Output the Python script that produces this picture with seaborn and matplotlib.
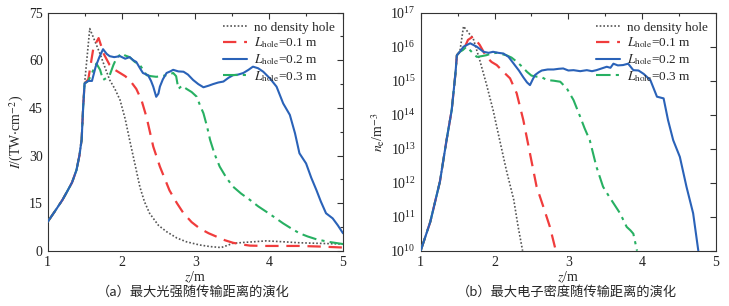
import matplotlib
matplotlib.use('Agg')
import matplotlib.pyplot as plt
import numpy as np
import pandas as pd
import seaborn as sns
from matplotlib.ticker import MultipleLocator, LogLocator, NullLocator

# ---- (a) peak intensity I (TW/cm^2) vs z (m)
z_rise = [1.0, 1.1, 1.2, 1.26, 1.33, 1.39, 1.43, 1.46, 1.48, 1.5]
i_rise = [9.1, 12.5, 16.0, 18.5, 21.5, 25.4, 30.0, 35.0, 45.0, 52.7]

z_nohole_a = [1.5, 1.57, 1.64, 1.71, 1.78, 1.84, 1.91, 1.98, 2.05, 2.11, 2.18, 2.25, 2.31, 2.38,
              2.5, 2.61, 2.75, 2.88, 3.06, 3.2, 3.35, 3.45, 3.5, 3.65, 3.78, 3.96, 4.2, 4.41, 4.7, 5.0]
i_nohole_a = [52.7, 70.0, 66.0, 62.0, 57.5, 53.8, 51.0, 47.5, 41.5, 34.9, 27.5, 20.0, 15.5, 11.8,
              8.0, 6.0, 4.0, 2.8, 1.8, 1.3, 1.0, 1.8, 2.3, 2.6, 2.8, 3.1, 2.8, 2.5, 2.3, 2.1]

z_h01_a = [1.5, 1.55, 1.62, 1.69, 1.76, 1.84, 1.91, 1.98, 2.05, 2.11, 2.2, 2.27, 2.34, 2.43, 2.52,
           2.65, 2.75, 2.84, 2.95, 3.06, 3.18, 3.29, 3.4, 3.51, 3.62, 3.74, 3.96, 4.2, 4.41, 4.7, 5.0]
i_h01_a = [52.7, 54.0, 64.0, 67.0, 62.0, 58.5, 57.0, 56.0, 55.0, 53.8, 51.0, 47.5, 42.0, 32.8, 26.5,
           19.0, 15.0, 11.8, 9.0, 7.0, 5.5, 4.4, 3.3, 2.5, 2.0, 1.6, 1.5, 1.5, 1.5, 1.3, 1.0]

z_h02_a = [1.5, 1.55, 1.6, 1.65, 1.7, 1.75, 1.8, 1.84, 1.9, 1.98, 2.05, 2.11, 2.16, 2.2, 2.25, 2.29,
           2.36, 2.4, 2.43, 2.47, 2.5, 2.52, 2.56, 2.61, 2.66, 2.7, 2.77, 2.84, 2.9, 2.97, 3.04,
           3.11, 3.18, 3.24, 3.31, 3.38, 3.45, 3.51, 3.58, 3.65, 3.72, 3.78, 3.85, 3.92, 4.01,
           4.1, 4.19, 4.28, 4.35, 4.41, 4.5, 4.57, 4.64, 4.7, 4.77, 4.86, 4.93, 5.0]
i_h02_a = [52.7, 53.5, 53.5, 58.0, 61.0, 63.5, 62.0, 61.3, 61.0, 61.3, 60.5, 61.0, 60.0, 59.5, 57.5, 56.0,
           55.3, 53.5, 51.7, 48.5, 49.5, 51.7, 54.0, 56.0, 56.5, 57.0, 56.5, 56.4, 55.5, 53.8, 52.5,
           51.5, 52.0, 52.5, 53.0, 53.3, 54.5, 55.3, 55.5, 56.0, 57.0, 58.0, 57.5, 56.4, 54.3,
           51.7, 46.4, 42.8, 37.0, 30.7, 27.5, 23.0, 19.1, 15.5, 11.8, 10.2, 8.0, 5.5]

z_h03_a = [1.5, 1.55, 1.6, 1.66, 1.71, 1.75, 1.8, 1.84, 1.89, 1.93, 2.0, 2.05, 2.11, 2.18, 2.25,
           2.34, 2.4, 2.47, 2.54, 2.61, 2.7, 2.74, 2.77, 2.82, 2.88, 2.95, 3.02, 3.06, 3.11, 3.16,
           3.2, 3.26, 3.33, 3.42, 3.51, 3.62, 3.74, 3.85, 3.96, 4.08, 4.19, 4.3, 4.41, 4.52, 4.64,
           4.8, 5.0]
i_h03_a = [52.7, 53.5, 56.0, 59.0, 57.0, 53.8, 54.5, 55.3, 58.5, 60.6, 62.2, 61.5, 61.0, 59.5, 58.5,
           55.3, 55.0, 54.8, 55.0, 55.3, 56.0, 55.0, 51.0, 52.0, 51.0, 50.0, 48.5, 46.0, 43.3, 39.0,
           34.9, 30.5, 26.5, 23.0, 20.2, 18.0, 16.0, 14.0, 12.3, 10.4, 8.6, 7.0, 5.5, 4.5, 3.6,
           2.8, 2.1]

# ---- (b) peak electron density log10(n_e / m^-3) vs z (m)
z_rise_b = [1.0, 1.13, 1.26, 1.35, 1.42, 1.47, 1.49, 1.53]
n_rise_b = [10.0, 10.85, 12.03, 13.25, 14.14, 15.2, 15.75, 15.85]

z_nohole_b = [1.53, 1.58, 1.65, 1.71, 1.8, 1.89, 1.98, 2.07, 2.16, 2.26, 2.32, 2.38]
n_nohole_b = [15.85, 16.6, 16.4, 16.25, 15.6, 14.9, 14.14, 13.25, 12.37, 11.5, 10.7, 10.0]

z_h01_b = [1.53, 1.6, 1.64, 1.71, 1.8, 1.89, 1.96, 2.03, 2.12, 2.21, 2.3, 2.39, 2.48, 2.57, 2.66,
           2.75, 2.83]
n_h01_b = [15.85, 16.0, 16.2, 16.3, 16.05, 15.7, 15.55, 15.46, 15.26, 15.07, 14.63, 13.84, 12.86, 11.88, 11.3,
           10.7, 10.0]

z_h02_b = [1.53, 1.58, 1.67, 1.76, 1.85, 1.92, 1.98, 2.05, 2.12, 2.19, 2.26, 2.33, 2.39, 2.44, 2.48,
           2.52, 2.55, 2.6, 2.64, 2.72, 2.8, 2.87, 2.93, 3.0, 3.07, 3.16, 3.25, 3.32, 3.38, 3.45,
           3.52, 3.57, 3.61, 3.67, 3.74, 3.81, 3.88, 3.95, 4.02, 4.11, 4.2, 4.29, 4.35, 4.42, 4.51,
           4.6, 4.69, 4.76]
n_h02_b = [15.8, 16.0, 16.1, 16.0, 15.85, 15.82, 15.85, 15.82, 15.8, 15.7, 15.5, 15.3, 15.1, 14.95, 14.87,
           15.05, 15.17, 15.25, 15.3, 15.33, 15.33, 15.35, 15.36, 15.3, 15.31, 15.28, 15.31, 15.28, 15.31, 15.36,
           15.41, 15.38, 15.5, 15.45, 15.46, 15.5, 15.31, 15.3, 15.2, 15.02, 14.53, 14.48, 13.84, 13.25, 12.76,
           11.88, 11.1, 10.0]

z_h03_b = [1.53, 1.57, 1.62, 1.69, 1.76, 1.82, 1.89, 1.96, 2.03, 2.1, 2.16, 2.23, 2.3, 2.37, 2.44,
           2.5, 2.57, 2.64, 2.71, 2.8, 2.89, 2.98, 3.07, 3.16, 3.22, 3.29, 3.38, 3.47, 3.55, 3.61,
           3.7, 3.79, 3.84, 3.88, 3.93]
n_h03_b = [15.85, 15.9, 16.0, 15.85, 15.7, 15.72, 15.75, 15.8, 15.82, 15.78, 15.75, 15.68, 15.56, 15.42, 15.26,
           15.15, 15.12, 15.1, 15.02, 15.0, 14.97, 14.77, 14.43, 13.94, 13.6, 13.25, 12.47, 11.88, 11.6, 11.4,
           11.1, 10.7, 10.6, 10.5, 10.0]

labels = ['no density hole', r'$L_{\rm hole}$=0.1 m', r'$L_{\rm hole}$=0.2 m', r'$L_{\rm hole}$=0.3 m']
colors = ['#555555', '#f03c3c', '#2a62b8', '#27b062']
styles = [(0, (1, 1.2)), (0, (6, 3.5)), '-', (0, (7, 2.5, 1.5, 2.5))]
widths = [1.2, 1.6, 1.5, 1.5]

sns.set_style('white')
plt.rcParams['font.family'] = ['Liberation Serif', 'Noto Sans CJK SC']
plt.rcParams['mathtext.fontset'] = 'stix'
plt.rcParams['font.size'] = 10

fig = plt.figure(figsize=(7.29, 3.06), dpi=100)
ax1 = fig.add_axes([0.0654, 0.1807, 0.4051, 0.7778])
ax2 = fig.add_axes([0.5771, 0.1807, 0.4051, 0.7778])

series_a = [(z_rise + z_nohole_a[1:], i_rise + i_nohole_a[1:]),
            (z_rise + z_h01_a[1:], i_rise + i_h01_a[1:]),
            (z_rise + z_h02_a[1:], i_rise + i_h02_a[1:]),
            (z_rise + z_h03_a[1:], i_rise + i_h03_a[1:])]
series_b = [(z_rise_b + z_nohole_b[1:], n_rise_b + n_nohole_b[1:]),
            (z_rise_b + z_h01_b[1:], n_rise_b + n_h01_b[1:]),
            (z_rise_b + z_h02_b[1:], n_rise_b + n_h02_b[1:]),
            (z_rise_b + z_h03_b[1:], n_rise_b + n_h03_b[1:])]

# draw 0.3 before 0.2 so the blue line sits on top
order = [0, 1, 3, 2]
for k in order:
    z, v = series_a[k]
    sns.lineplot(x=z, y=v, ax=ax1, color=colors[k], linestyle=styles[k], lw=widths[k],
                 label=labels[k], zorder=3 + (k == 2))
    z, v = series_b[k]
    sns.lineplot(x=z, y=10.0 ** np.array(v), ax=ax2, color=colors[k], linestyle=styles[k], lw=widths[k],
                 label=labels[k], zorder=3 + (k == 2))

ax1.set_xlim(1, 5)
ax1.set_ylim(0, 75)
ax1.xaxis.set_major_locator(MultipleLocator(1))
ax1.xaxis.set_minor_locator(MultipleLocator(0.5))
ax1.yaxis.set_major_locator(MultipleLocator(15))
ax1.yaxis.set_minor_locator(MultipleLocator(7.5))
ax1.set_xlabel(r'$z$/m', labelpad=1)
ax1.set_ylabel(r'$I$/(TW$\cdot$cm$^{-2}$)', labelpad=2)

ax2.set_yscale('log')
ax2.set_xlim(1, 5)
ax2.set_ylim(1e10, 1e17)
ax2.xaxis.set_major_locator(MultipleLocator(1))
ax2.xaxis.set_minor_locator(MultipleLocator(0.5))
ax2.yaxis.set_major_locator(LogLocator(base=10, numticks=10))
ax2.yaxis.set_minor_locator(NullLocator())
ax2.set_xlabel(r'$z$/m', labelpad=1)
ax2.set_ylabel(r'$n_{\rm e}$/m$^{-3}$', labelpad=2)

for ax in (ax1, ax2):
    for s in ax.spines.values():
        s.set_color('#333333')
        s.set_linewidth(0.8)
    ax.tick_params(which='both', direction='in', top=True, right=True, colors='#333333',
                   labelcolor='#222222', labelsize=10)
    ax.tick_params(which='major', length=4, width=0.8)
    ax.tick_params(which='minor', length=2.5, width=0.8)
    h, l = ax.get_legend_handles_labels()
    idx = [l.index(x) for x in labels]
    ax.legend([h[i] for i in idx], labels, loc='upper right', frameon=False, fontsize=9.5,
              handlelength=1.8, labelspacing=0.15, borderaxespad=0.25, handletextpad=0.5)

fig.text(0.265, 0.045, '（a）最大光强随传输距离的演化', ha='center', va='center', fontsize=9.5,
         family=['Noto Sans CJK SC', 'DejaVu Sans'])
fig.text(0.778, 0.045, '（b）最大电子密度随传输距离的演化', ha='center', va='center', fontsize=9.5,
         family=['Noto Sans CJK SC', 'DejaVu Sans'])

fig.savefig('out.png', dpi=100)
